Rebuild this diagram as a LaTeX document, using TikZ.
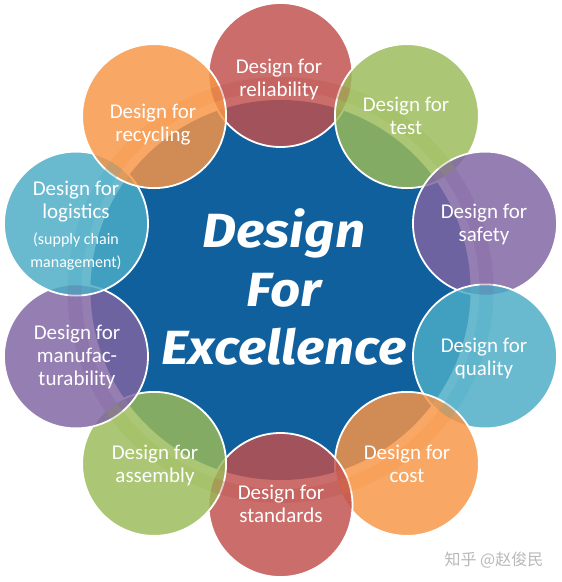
\documentclass[tikz,border=0pt]{standalone}
\usepackage{fontspec}
\setmainfont{Carlito}
\newfontfamily\dinfont{Fira Sans}[FakeStretch=1.1]
\newfontfamily\cjkfont{Noto Sans CJK SC}
\definecolor{dfxblue}{RGB}{17,96,158}
\definecolor{offred}{HTML}{C0504D}
\definecolor{offgreen}{HTML}{9BBB59}
\definecolor{offpurple}{HTML}{8064A2}
\definecolor{offaqua}{HTML}{4BACC6}
\definecolor{offorange}{HTML}{F79646}
\tikzset{
  petal/.style={circle, minimum size=144pt, inner sep=0pt, draw=white, line width=1.8pt, fill=#1, fill opacity=0.83},
  petaltext/.style={align=center, text=white, inner sep=0pt, font=\fontsize{21}{23}\selectfont},
  band/.style={draw=#1, draw opacity=0.3, line width=14pt}
}
\begin{document}
\begin{tikzpicture}[x=1pt,y=-1pt]
\useasboundingbox (0,0) rectangle (562,582);
\fill[white] (0,0) rectangle (562,582);
\node[circle, fill=dfxblue, minimum size=380pt, inner sep=0pt] (hub) at (280.5,290) {};
% petals
\node[petal=offred]    (rel) at (280.5,75) {};
\node[petal=offgreen]  (tst) at (406.9,116.1) {};
\node[petal=offpurple] (saf) at (485,223.6) {};
\node[petal=offaqua]   (qua) at (485,356.4) {};
\node[petal=offorange] (cst) at (406.9,463.9) {};
\node[petal=offred]    (std) at (280.5,505) {};
\node[petal=offgreen]  (asm) at (154.1,463.9) {};
\node[petal=offpurple] (man) at (76,356.4) {};
\node[petal=offaqua]   (log) at (76,223.6) {};
\node[petal=offorange] (rec) at (154.1,116.1) {};
% bands
\foreach \p/\c in {rel/offred,tst/offgreen,saf/offpurple,qua/offaqua,cst/offorange,std/offred,asm/offgreen,man/offpurple,log/offaqua,rec/offorange}{
  \begin{scope}
    \clip (\p) circle (71pt);
    \draw[band=\c] (hub.center) circle (206pt);
  \end{scope}
}
% texts
\node[petaltext] (relt) at (279,79) {Design for\\reliability};
\node[petaltext] (tstt) at (406,116) {Design for\\test};
\node[petaltext] (saft) at (484,224) {Design for\\safety};
\node[petaltext] (quat) at (484,358) {Design for\\quality};
\node[petaltext] (cstt) at (407,464) {Design for\\cost};
\node[petaltext] (stdt) at (281,504) {Design for\\standards};
\node[petaltext] (asmt) at (155,465) {Design for\\assembly};
\node[petaltext] (mant) at (77,357) {Design for\\manufac-\\turability};
\node[petaltext] (logt) at (76,226) {Design for\\logistics\\[3pt]{\fontsize{16}{16}\selectfont (supply chain}\\{\fontsize{16}{16}\selectfont management)}};
\node[petaltext] (rect) at (153,125) {Design for\\recycling};
% title
\node[align=center, text=white, inner sep=0pt, font=\dinfont\bfseries\itshape\fontsize{48}{58.5}\selectfont] (title) at (284,287) {Design\\For\\Excellence};
% watermark
\node[text=gray!55, inner sep=0pt, font=\cjkfont\fontsize{16}{16}\selectfont] (wm) at (494,560) {知乎 @赵俊民};
\end{tikzpicture}
\end{document}
